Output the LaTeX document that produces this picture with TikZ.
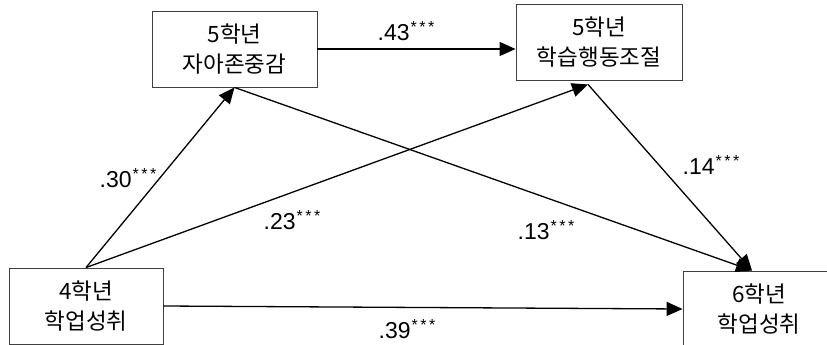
\documentclass[tikz,border=0pt]{standalone}
\usepackage{fontspec}
\setmainfont{Noto Sans CJK KR}
\newfontfamily\numfont{Liberation Sans}
\newcommand{\sigstars}{\kern1pt\raisebox{7.5pt}{\fontsize{16}{16}\selectfont *\kern2.5pt*\kern2.5pt*}}
\usetikzlibrary{arrows.meta}

\begin{document}
\begin{tikzpicture}[
        x=1pt, y=-1pt,
        every node/.style={font=\fontsize{22.5}{30}\selectfont},
        var/.style={draw=black!75, line width=0.9pt, align=center, inner sep=0pt, minimum height=76pt},
        coef/.style={inner sep=1pt, font=\numfont\fontsize{23}{26}\selectfont},
        arr/.style={-{Triangle[length=16pt,width=14pt]}, line width=1.3pt}
    ]
    \useasboundingbox (0,0) rectangle (827,345);
    \clip (0,0) rectangle (827,345);
    % Define nodes
    \node[var, minimum width=165pt] (SE5) at (234.5,49) {5학년\\자아존중감};
    \node[var, minimum width=166pt] (SR5) at (599,42) {5학년\\학습행동조절};
    \node[var, minimum width=154pt] (ACH4) at (86,306) {4학년\\학업성취};
    \node[var, minimum width=152pt] (ACH6) at (759,309) {6학년\\학업성취};
    \coordinate (SR5in) at ([xshift=-11pt,yshift=-4pt]SR5.south);
    \coordinate (ACH6in) at ([xshift=-7pt]ACH6.north);
    % Draw edges
    \draw[arr] (ACH4.north) -- (SE5.south);
    \draw[arr] (ACH4.north) -- (SR5in);
    \draw[arr] (SE5.south) -- (ACH6in);
    \draw[arr] (SR5in) -- (ACH6in);
    \draw[arr] (SE5.east) -- (SE5.east -| SR5.west);
    \draw[arr] (ACH4.east) -- (ACH6.west);
    % Path coefficients
    \node[coef] (c43) at (406,31) {.43\sigstars};
    \node[coef] (c30) at (128,178) {.30\sigstars};
    \node[coef] (c23) at (292,220) {.23\sigstars};
    \node[coef] (c13) at (546,230) {.13\sigstars};
    \node[coef] (c14) at (711,165) {.14\sigstars};
    \node[coef] (c39) at (407,329) {.39\sigstars};
\end{tikzpicture}
\end{document}
